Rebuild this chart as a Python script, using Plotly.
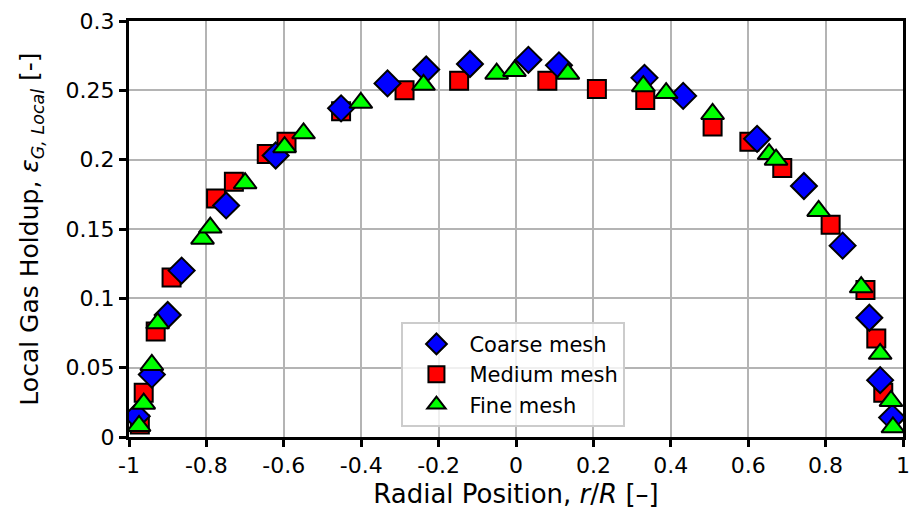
import plotly.graph_objects as go

# Radial gas holdup profiles for three mesh resolutions
coarse_r = [-0.980, -0.941, -0.900, -0.864, -0.749, -0.621, -0.452, -0.332, -0.232, -0.119,
            0.032, 0.111, 0.332, 0.432, 0.623, 0.744, 0.844, 0.913, 0.941, 0.972]
coarse_eps = [0.015, 0.045, 0.088, 0.120, 0.167, 0.203, 0.237, 0.255, 0.265, 0.269,
              0.272, 0.268, 0.259, 0.246, 0.215, 0.181, 0.138, 0.086, 0.041, 0.014]

medium_r = [-0.972, -0.962, -0.931, -0.890, -0.775, -0.729, -0.644, -0.593, -0.452, -0.288,
            -0.147, 0.081, 0.209, 0.334, 0.508, 0.603, 0.688, 0.813, 0.903, 0.931, 0.949]
medium_eps = [0.009, 0.032, 0.076, 0.115, 0.172, 0.184, 0.204, 0.213, 0.235, 0.250,
              0.257, 0.257, 0.251, 0.243, 0.224, 0.213, 0.194, 0.153, 0.106, 0.071, 0.032]

fine_r = [-0.974, -0.962, -0.941, -0.926, -0.810, -0.790, -0.700, -0.598, -0.549, -0.401,
          -0.239, -0.050, -0.004, 0.134, 0.329, 0.388, 0.508, 0.654, 0.672, 0.782,
          0.892, 0.941, 0.969, 0.974]
fine_eps = [0.008, 0.024, 0.052, 0.082, 0.143, 0.151, 0.183, 0.209, 0.219, 0.241,
            0.254, 0.262, 0.264, 0.262, 0.253, 0.248, 0.233, 0.204, 0.200, 0.163,
            0.108, 0.060, 0.026, 0.007]

x_ticks = [-1, -0.8, -0.6, -0.4, -0.2, 0, 0.2, 0.4, 0.6, 0.8, 1]
x_tick_text = ["-1", "-0.8", "-0.6", "-0.4", "-0.2", "0", "0.2", "0.4", "0.6", "0.8", "1"]
y_ticks = [0, 0.05, 0.1, 0.15, 0.2, 0.25, 0.3]
y_tick_text = ["0", "0.05", "0.1", "0.15", "0.2", "0.25", "0.3"]

FONT = "DejaVu Sans"
outline = dict(color="black", width=2)

fig = go.Figure()
fig.add_trace(go.Scatter(
    x=medium_r, y=medium_eps, mode="markers", name="Medium mesh", legendrank=2,
    marker=dict(symbol="square", size=18, color="#ff0000", line=outline),
))
fig.add_trace(go.Scatter(
    x=coarse_r, y=coarse_eps, mode="markers", name="Coarse mesh", legendrank=1,
    marker=dict(symbol="diamond", size=20, color="#0000ff", line=outline),
))
fig.add_trace(go.Scatter(
    x=fine_r, y=fine_eps, mode="markers", name="Fine mesh", legendrank=3,
    marker=dict(symbol="triangle-up", size=20, color="#00ff00", line=outline),
))

axis_common = dict(
    showline=True, linecolor="black", linewidth=3, mirror=True,
    ticks="outside", ticklen=7, tickwidth=3, tickcolor="black",
    showgrid=True, gridcolor="#b4b4b4", gridwidth=2,
    zeroline=False,
    tickfont=dict(family=FONT, size=22, color="black"),
)

fig.update_layout(
    width=919, height=517,
    margin=dict(l=129, r=9, t=19, b=80),
    paper_bgcolor="white", plot_bgcolor="white",
    font=dict(family=FONT, color="black"),
    xaxis=dict(
        range=[-1, 1], tickvals=x_ticks, ticktext=x_tick_text,
        title=dict(text="Radial Position, <i>r</i>/<i>R</i> [–]",
                   font=dict(family=FONT, size=26), standoff=8),
        **axis_common,
    ),
    yaxis=dict(
        range=[0, 0.3], tickvals=y_ticks, ticktext=y_tick_text,
        title=dict(text="Local Gas Holdup, <i>ε</i><sub><i>G, Local</i></sub> [-]",
                   font=dict(family=FONT, size=25), standoff=20),
        **axis_common,
    ),
    legend=dict(
        x=0.352, y=0.277, xanchor="left", yanchor="top",
        bgcolor="rgba(255,255,255,0.8)", bordercolor="#cccccc", borderwidth=2,
        font=dict(family=FONT, size=21, color="black"),
        itemwidth=56, tracegroupgap=0,
    ),
    showlegend=True,
)

fig.write_html("out.html")
